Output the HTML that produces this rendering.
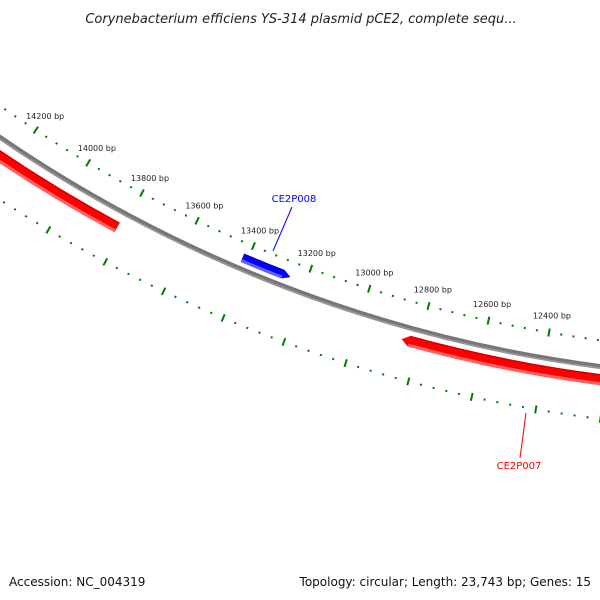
<!DOCTYPE html>
<html><head><meta charset="utf-8"><style>
body{margin:0;background:#fff}
svg{display:block;font-family:"DejaVu Sans","Liberation Sans",sans-serif}
</style></head><body>
<svg id="map" width="600" height="600" viewBox="0 0 600 600">
<text x="301" y="23" text-anchor="middle" font-size="13" font-style="italic" fill="#222">Corynebacterium efficiens YS-314 plasmid pCE2, complete sequ...</text>
<g id="ticks"></g>
<g id="backbone"></g>
<g id="feats"></g>
<text x="9" y="586" font-size="12" fill="#111">Accession: NC_004319</text>
<text x="591" y="586" font-size="12" text-anchor="end" fill="#111">Topology: circular; Length: 23,743 bp; Genes: 15</text>
</svg>
<script>
const majorTicks = [12400,12600,12800,13000,13200,13400,13600,13800,14000,14200];
const tickLabels = ["12400 bp","12600 bp","12800 bp","13000 bp","13200 bp","13400 bp","13600 bp","13800 bp","14000 bp","14200 bp"];
const featNames = ["CE2P007","CE2P008","CE2P009"];
const featStart = [11900,13252,13818];
const featEnd = [12855,13418,15000];
const featStrand = [1,-1,1];

const CX=778, CY=-1000, NS="http://www.w3.org/2000/svg";
function ang(bp){return (9.75+(bp-12400)*0.01308)*Math.PI/180;}
function pt(bp,r){const a=ang(bp);return [CX-r*Math.sin(a),CY+r*Math.cos(a)];}
function mk(tag,attrs,parent){const e=document.createElementNS(NS,tag);for(const k in attrs)e.setAttribute(k,attrs[k]);parent.appendChild(e);return e;}
// arc from high bp (left) to low bp (right): sweep 0
function arc(b1,b2,r){const p1=pt(b1,r),p2=pt(b2,r);return `M${p1[0]},${p1[1]} A${r},${r} 0 0 0 ${p2[0]},${p2[1]}`;}

const tg=document.getElementById('ticks');
for(let bp=11600;bp<=15000;bp+=40){
  const major = bp%200===0;
  [1352,1430].forEach(r=>{
    const h=major?4:1;
    const a=pt(bp,r-h),b=pt(bp,r+h);
    const l=mk('line',{x1:a[0],y1:a[1],x2:b[0],y2:b[1],stroke:'#007a00','stroke-width':2},tg);
    
    
  });
}
majorTicks.forEach((bp,i)=>{
  const p=pt(bp,1335);
  const t=mk('text',{x:p[0],y:p[1]+3,'font-size':8,'text-anchor':'middle',fill:'#222'},tg);
  
  
  t.textContent=tickLabels[i];
});

const bg=document.getElementById('backbone');
const bb1=mk('path',{d:arc(15500,11000,1378),fill:'none',stroke:'#777','stroke-width':5},bg);


mk('path',{d:arc(15500,11000,1379.5),fill:'none',stroke:'#999','stroke-width':1.5},bg);

const fg=document.getElementById('feats');
function feature(b1,b2,r,w,strand,col,light,dark,name){
  const g=mk('g',{},fg);
  
  
  const ah=8/r*180/Math.PI/0.01308;
  let hiBody=b2, loBody=b1;
  if(strand===1) hiBody=b2-ah; else if(strand===-1) loBody=b1+ah;
  const ro=r+w/2, ri=r-w/2;
  const A=pt(hiBody,ri),B=pt(loBody,ri),C=pt(loBody,ro),D=pt(hiBody,ro);
  let d=`M${A[0]},${A[1]} A${ri},${ri} 0 0 0 ${B[0]},${B[1]}`;
  if(strand===-1){const T=pt(b1,r);d+=` L${T[0]},${T[1]}`;}
  d+=` L${C[0]},${C[1]} A${ro},${ro} 0 0 1 ${D[0]},${D[1]}`;
  if(strand===1){const T=pt(b2,r);d+=` L${T[0]},${T[1]}`;}
  d+=' Z';
  mk('path',{d:d,fill:col},g);
  mk('path',{d:arc(hiBody,loBody,ro-1.5),fill:'none',stroke:light,'stroke-width':3},g);
  mk('path',{d:arc(hiBody,loBody,ri+0.7),fill:'none',stroke:dark,'stroke-width':1.4},g);
}
feature(featStart[0],featEnd[0],1391,11,featStrand[0],'#ff0000','#ff6060','#cc0000','CE2P007');
feature(featStart[1],featEnd[1],1367,9,featStrand[1],'#0000ff','#6060ff','#0000bb','CE2P008');
feature(featStart[2],featEnd[2],1394,11,0,'#ff0000','#ff6060','#cc0000','CE2P009');

function glabel(txt,x,y,col,lx1,ly1,lx2,ly2){
  const l=mk('line',{x1:lx1,y1:ly1,x2:lx2,y2:ly2,stroke:col,'stroke-width':1},fg);
  
  
  const t=mk('text',{x:x,y:y,'font-size':10,'text-anchor':'middle',fill:col},fg);
  
  
  t.textContent=txt;
}
glabel(featNames[1],294,202,'#0000ff',292,207,273,251);
glabel(featNames[0],519,469,'#ff0000',526,413,520,458);
</script>
</body></html>
